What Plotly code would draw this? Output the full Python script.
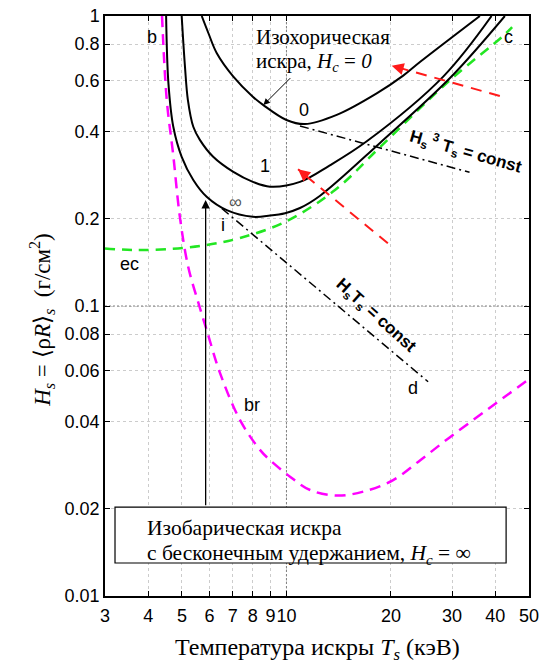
import math
import plotly.graph_objects as go

# ---- data -------------------------------------------------------------
# black curves: ignition boundary H_s(T_s) for different confinement H_c
T_hc0 = [5.70, 5.96, 6.30, 7.03, 8.00, 8.58, 10.0, 11.3, 13.96, 18.2, 21.7, 24.3, 36.1]
H_hc0 = [1.00, 0.872, 0.744, 0.618, 0.527, 0.493, 0.438, 0.424, 0.456, 0.541, 0.623, 0.695, 1.00]

T_hc1 = [4.99, 5.10, 5.20, 5.39, 5.63, 6.15, 7.03, 8.00, 8.97, 10.94, 13.3, 17.0, 28.3, 39.0]
H_hc1 = [1.00, 0.669, 0.513, 0.415, 0.374, 0.327, 0.290, 0.268, 0.258, 0.268, 0.305, 0.369, 0.618, 1.00]

T_hcinf = [4.50, 4.57, 4.72, 4.99, 5.39, 5.89, 6.73, 8.00, 8.97, 9.91, 10.94, 12.5, 18.6, 29.6, 42.6]
H_hcinf = [1.00, 0.586, 0.415, 0.327, 0.272, 0.238, 0.214, 0.203, 0.205, 0.209, 0.2177, 0.240, 0.365, 0.611, 1.00]

# green dashed boundary "ec"
T_ec = [3.0, 3.61, 4.5, 5.83, 7.35, 9.91, 13.8, 18.6, 29.6, 42.1, 44.7]
H_ec = [0.158, 0.156, 0.157, 0.162, 0.1716, 0.195, 0.251, 0.353, 0.601, 0.853, 0.916]

# magenta dashed boundary "b"-"br"
T_br = [4.38, 4.52, 4.72, 4.93, 5.21, 5.61, 5.89, 6.44, 7.35, 8.39, 8.97, 10.24,
        11.7, 13.96, 16.65, 20.3, 24.3, 29.6, 37.8, 50.0]
H_br = [1.00, 0.513, 0.330, 0.203, 0.1366, 0.100, 0.0826, 0.0586, 0.0404, 0.0319,
        0.0294, 0.0258, 0.0232, 0.0222, 0.0229, 0.0251, 0.0294, 0.0353, 0.0438, 0.056]

# dash-dot similarity lines
T_h3t = [10.94, 33.7]
H_h3t = [0.4175, 0.289]
T_ht = [6.51, 25.6]
H_ht = [0.217, 0.0548]

# red arrows (tail -> head)
T_arrow_a = [41.2, 20.1]
H_arrow_a = [0.530, 0.674]
T_arrow_b = [19.6, 10.8]
H_arrow_b = [0.1645, 0.296]

# vertical black arrow (isobaric spark)
T_iso = 5.85
H_iso = [0.0203, 0.232]

# isochoric leader arrow (tail -> head)
T_lead = [10.36, 8.58]
H_lead = [0.618, 0.493]

x_ticks = [3, 4, 5, 6, 7, 8, 9, 10, 20, 30, 40, 50]
x_ticklabels = ["3", "4", "5", "6", "7", "8", "9", "10", "20", "30", "40", "50"]
y_ticks = [0.01, 0.02, 0.04, 0.06, 0.08, 0.1, 0.2, 0.4, 0.6, 0.8, 1]
y_ticklabels = ["0.01", "0.02", "0.04", "0.06", "0.08", "0.1", "0.2", "0.4", "0.6", "0.8", "1"]

# ---- styling ----------------------------------------------------------
SANS = "Liberation Sans, Arial, sans-serif"
SERIF = "Liberation Serif, Times New Roman, serif"
MAGENTA = "#ff00ff"
GREEN = "#22e622"
RED = "#ff1a1a"

L = math.log10

fig = go.Figure()

# darker dotted major grid lines at T=10 and H=0.1
fig.add_trace(go.Scatter(x=[10, 10], y=[0.01, 1], mode="lines",
                         line=dict(color="#808080", width=1, dash="2px,2px"),
                         hoverinfo="skip"))
fig.add_trace(go.Scatter(x=[3, 50], y=[0.1, 0.1], mode="lines",
                         line=dict(color="#808080", width=1, dash="2px,2px"),
                         hoverinfo="skip"))

# boundaries
fig.add_trace(go.Scatter(x=T_ec, y=H_ec, mode="lines", line_shape="spline",
                         line=dict(color=GREEN, width=2.5, dash="10px,7px")))
fig.add_trace(go.Scatter(x=T_br, y=H_br, mode="lines", line_shape="spline",
                         line=dict(color=MAGENTA, width=2.5, dash="11px,7px")))

# similarity lines
fig.add_trace(go.Scatter(x=T_h3t, y=H_h3t, mode="lines",
                         line=dict(color="black", width=1.5, dash="9px,4px,2px,4px")))
fig.add_trace(go.Scatter(x=T_ht, y=H_ht, mode="lines",
                         line=dict(color="black", width=1.5, dash="9px,4px,2px,4px")))

# ignition curves
for tx, hy in [(T_hc0, H_hc0), (T_hc1, H_hc1), (T_hcinf, H_hcinf)]:
    fig.add_trace(go.Scatter(x=tx, y=hy, mode="lines", line_shape="spline",
                             line=dict(color="black", width=2)))

annotations = []

# red dashed arrows: dashed shaft as a trace, filled head as an annotation arrow
for tx, hy in [(T_arrow_a, H_arrow_a), (T_arrow_b, H_arrow_b)]:
    fig.add_trace(go.Scatter(x=tx, y=hy, mode="lines",
                             line=dict(color=RED, width=2, dash="11px,8px")))
    back_x = L(tx[1]) + 0.12 * (L(tx[0]) - L(tx[1]))
    back_y = L(hy[1]) + 0.12 * (L(hy[0]) - L(hy[1]))
    annotations.append(dict(x=L(tx[1]), y=L(hy[1]), ax=back_x, ay=back_y,
                            xref="x", yref="y", axref="x", ayref="y", text="",
                            showarrow=True, arrowhead=2, arrowsize=1.2, arrowwidth=2,
                            arrowcolor=RED, standoff=0))


def label(x, y, text, size=18, font=SANS, color="black", **kw):
    annotations.append(dict(x=L(x), y=L(y), xref="x", yref="y", text=text,
                            showarrow=False,
                            font=dict(family=font, size=size, color=color), **kw))


label(4.11, 0.848, "b")
label(43.6, 0.848, "c")
label(3.54, 0.1396, "ec")
label(7.96, 0.0456, "br")
label(23.2, 0.052, "d")
label(6.55, 0.190, "i")
label(7.11, 0.2284, "∞", color="#555555")
label(11.2, 0.474, "0")
label(8.67, 0.304, "1")

label(8.05, 0.848, "Изохорическая", size=21, font=SERIF, xanchor="left")
label(8.05, 0.696, "искра, <i>H<sub>c</sub></i> = <i>0</i>", size=21, font=SERIF,
      xanchor="left")

label(32.9, 0.34, "<b>H<sub>s</sub><sup> 3</sup> T<sub>s</sub> = const</b>", size=17,
      textangle=16)
label(18.0, 0.0923, "<b>H<sub>s</sub>T<sub>s</sub> = const</b>", size=17, textangle=42)

label(3.90, 0.01716, "Изобарическая искра", size=21.5, font=SERIF, xanchor="left")
label(3.90, 0.01385, "с бесконечным удержанием, <i>H<sub>c</sub></i> = ∞", size=21.5,
      font=SERIF, xanchor="left")

# vertical arrow from the box up to the H_c = inf curve
annotations.append(dict(x=L(T_iso), y=L(H_iso[1]), ax=L(T_iso), ay=L(H_iso[0]),
                        xref="x", yref="y", axref="x", ayref="y", text="",
                        showarrow=True, arrowhead=2, arrowsize=1.3, arrowwidth=1.3,
                        arrowcolor="black", standoff=0))
# leader from the isochoric caption to curve 0
annotations.append(dict(x=L(T_lead[1]), y=L(H_lead[1]), ax=L(T_lead[0]), ay=L(H_lead[0]),
                        xref="x", yref="y", axref="x", ayref="y", text="",
                        showarrow=True, arrowhead=2, arrowsize=1.3, arrowwidth=1,
                        arrowcolor="black", standoff=0))

# axis titles
annotations.append(dict(xref="paper", yref="paper", x=-0.19, y=0.476,
                        text="<i>H<sub>s</sub></i> = ⟨ρ<i>R</i>⟩<sub><i>s</i></sub>  (г/см<sup>2</sup>)",
                        textangle=-90, showarrow=False,
                        font=dict(family=SERIF, size=23, color="black")))
annotations.append(dict(xref="paper", yref="paper", x=0.5, y=-0.062, yanchor="top",
                        text="Температура искры <i>T<sub>s</sub></i> (кэВ)",
                        showarrow=False,
                        font=dict(family=SERIF, size=24, color="black")))

axis_common = dict(type="log", showline=True, linecolor="black", linewidth=1.5,
                   mirror="ticks", ticks="inside", ticklen=5, tickwidth=1,
                   tickcolor="black", showgrid=True, gridcolor="#cccccc",
                   griddash="dot", gridwidth=1, zeroline=False, tickangle=0,
                   automargin=False, ticklabeloverflow="allow",
                   tickfont=dict(family=SANS, size=18, color="black"))

fig.update_layout(
    width=539, height=666,
    margin=dict(l=105, r=10, t=16, b=70, autoexpand=False),
    plot_bgcolor="white", paper_bgcolor="white",
    showlegend=False,
    xaxis=dict(range=[L(3), L(50)], tickvals=x_ticks, ticktext=x_ticklabels,
               ticklabelstandoff=3, **axis_common),
    yaxis=dict(range=[L(0.01), L(1)], tickvals=y_ticks, ticktext=y_ticklabels,
               **axis_common),
    annotations=annotations,
    shapes=[dict(type="rect", xref="paper", yref="paper",
                 x0=0.0236, x1=0.946, y0=0.0569, y1=0.1534,
                 line=dict(color="black", width=1.2), fillcolor="white",
                 layer="above")],
)

fig.write_html("out.html")
